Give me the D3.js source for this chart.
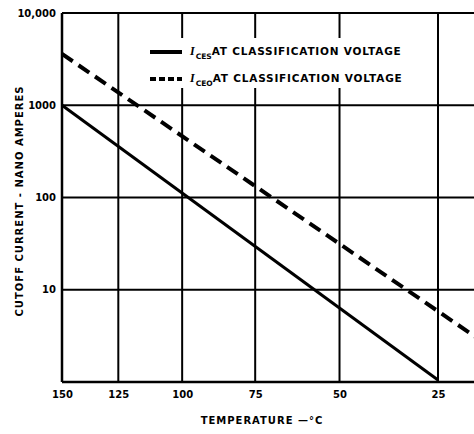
<!DOCTYPE html>
<html lang="en">
<head>
<meta charset="UTF-8">
<script src="https://d3js.org/d3.v7.min.js"></script>
<style>
  body { margin: 0; background: #fff; }
  svg { display: block; }
  text { font-family: "DejaVu Sans", "Liberation Sans", Arial, sans-serif; font-weight: bold; fill: #000; }
  .tick text { font-size: 10px; }
  .axis-label { font-size: 10px; letter-spacing: 1px; }
</style>
</head>
<body>
<div id="chart"></div>
<script>
// Data (temperature in °C, current in nA)
const tempTicks = [150, 125, 100, 75, 50, 25];
const currentTicks = [10, 100, 1000, 10000];
const currentTickLabels = ["10", "100", "1000", "10,000"];
const icesTemp = [150, 25];
const icesValue = [1000, 1.05];
const iceoTemp = [150, 15];
const iceoValue = [3600, 2.75];

const W = 474, H = 434;
const margin = {top: 13, left: 62, bottom: 52};
const plotBottom = H - margin.bottom;

// x axis is linear in reciprocal absolute temperature
const inv = t => 1 / (t + 273);
const x = d3.scaleLinear().domain([inv(150), inv(25)]).range([margin.left, 438]);
const y = d3.scaleLog().domain([1, 10000]).range([plotBottom, margin.top]);

const svg = d3.select("#chart").append("svg")
  .attr("width", W).attr("height", H);

// grid
const grid = svg.append("g").attr("stroke", "#000").attr("stroke-width", 2);
currentTicks.forEach(v => {
  grid.append("line")
    .attr("x1", margin.left).attr("x2", W)
    .attr("y1", y(v)).attr("y2", y(v));
});
tempTicks.slice(1).forEach(t => {
  grid.append("line")
    .attr("x1", x(inv(t))).attr("x2", x(inv(t)))
    .attr("y1", margin.top).attr("y2", plotBottom);
});

// axes
const xAxis = svg.append("g")
  .attr("transform", `translate(0,${plotBottom})`)
  .call(d3.axisBottom(x).tickValues(tempTicks.map(inv))
    .tickFormat((d, i) => tempTicks[i]).tickSize(0).tickPadding(9));
xAxis.select(".domain").attr("stroke-width", 2.5).attr("d", `M${margin.left},0H${W}`);

const yAxis = svg.append("g")
  .attr("transform", `translate(${margin.left},0)`)
  .call(d3.axisLeft(y).tickValues(currentTicks)
    .tickFormat((d, i) => currentTickLabels[i]).tickSize(0).tickPadding(6));
yAxis.select(".domain").attr("stroke-width", 2.5).attr("d", `M0,${margin.top}V${plotBottom}`);

// legend background breaks the grid
svg.append("rect")
  .attr("x", 145).attr("y", 38).attr("width", 280).attr("height", 50)
  .attr("fill", "#fff");

// curves
const line = d3.line().x(d => x(inv(d[0]))).y(d => y(d[1]));
svg.append("path")
  .datum(d3.zip(icesTemp, icesValue))
  .attr("d", line).attr("fill", "none")
  .attr("stroke", "#000").attr("stroke-width", 3);
svg.append("path")
  .datum(d3.zip(iceoTemp, iceoValue))
  .attr("d", line).attr("fill", "none")
  .attr("stroke", "#000").attr("stroke-width", 4)
  .attr("stroke-dasharray", "13,7");

// legend
const legend = [
  {sub: "CES", dash: null, y: 52},
  {sub: "CEO", dash: "6,3", y: 79}
];
legend.forEach(l => {
  svg.append("line")
    .attr("x1", 150).attr("x2", 182).attr("y1", l.y).attr("y2", l.y)
    .attr("stroke", "#000").attr("stroke-width", 4)
    .attr("stroke-dasharray", l.dash);
  const t = svg.append("text").attr("x", 190).attr("y", l.y + 3).attr("font-size", 10.5);
  t.append("tspan").text("I").attr("font-family", "Liberation Serif, serif")
    .attr("font-style", "italic").attr("font-size", 12);
  t.append("tspan").text(l.sub).attr("dx", 1).attr("dy", 4).attr("font-size", 7.5);
  t.append("tspan").text("AT CLASSIFICATION VOLTAGE").attr("dy", -4)
    .attr("letter-spacing", 0.8);
});

// axis titles
svg.append("text")
  .attr("class", "axis-label")
  .attr("x", 262).attr("y", 424)
  .attr("text-anchor", "middle")
  .text("TEMPERATURE —°C");
svg.append("text")
  .attr("class", "axis-label")
  .attr("transform", "translate(23,201) rotate(-90)")
  .attr("text-anchor", "middle")
  .text("CUTOFF CURRENT - NANO AMPERES");
</script>
</body>
</html>
